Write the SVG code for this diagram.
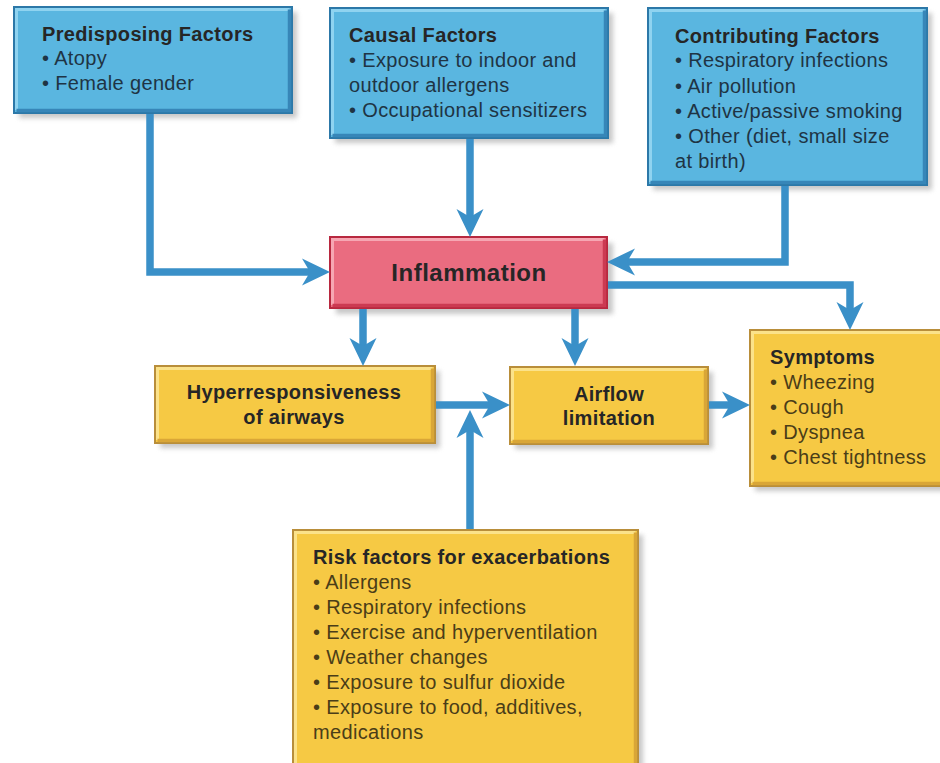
<svg xmlns="http://www.w3.org/2000/svg" width="940" height="763" viewBox="0 0 940 763">
<defs>
<filter id="sh" x="-10%" y="-10%" width="130%" height="130%"><feGaussianBlur stdDeviation="2.5"/></filter>
<marker id="ah" markerUnits="userSpaceOnUse" markerWidth="30" markerHeight="30" viewBox="0 -15 30 30" refX="14" refY="0" orient="auto" overflow="visible">
<path d="M0,-13.5 L28,0 L0,13.5 L8,0 Z" fill="#3a90c8"/>
</marker>
</defs>
<style>
text{font-family:"Liberation Sans",Arial,sans-serif;font-size:20px;letter-spacing:0.35px}
.t{font-weight:bold;fill:#262626}
.b{fill:#1f3444}
.y{fill:#4a3d18}
.shadow{fill:#9a9a9a;opacity:0.55;filter:url(#sh)}
.blue{fill:#5ab6e0;stroke:#2c78a8;stroke-width:2}
.blueHi{fill:none;stroke:#8fd3f0;stroke-width:3}
.blueLo{fill:none;stroke:#3786b8;stroke-width:3.5}
.pink{fill:#ea6c80;stroke:#b8283f;stroke-width:2}
.pinkHi{fill:none;stroke:#f6a7b3;stroke-width:3}
.pinkLo{fill:none;stroke:#cc3a52;stroke-width:3.5}
.yel{fill:#f6c944;stroke:#b98e3a;stroke-width:2}
.yelHi{fill:none;stroke:#fbe28a;stroke-width:3}
.yelLo{fill:none;stroke:#d9a637;stroke-width:3.5}
.c{fill:none;stroke:#3a90c8;stroke-width:7.5;stroke-linejoin:miter;marker-end:url(#ah)}
</style>

<g id="pred">
<rect class="shadow" x="19" y="12" width="278" height="106"/>
<rect class="blue" x="14" y="7" width="278" height="106"/>
<polyline class="blueHi" points="16.5,110 16.5,9.5 289.5,9.5"/>
<polyline class="blueLo" points="289.5,9.5 289.5,110.5 16.5,110.5"/>
<text class="t" x="42" y="41">Predisposing Factors</text>
<text class="b" x="42" y="65">• Atopy</text>
<text class="b" x="42" y="90">• Female gender</text>
</g>

<g id="causal">
<rect class="shadow" x="335" y="13" width="278" height="130"/>
<rect class="blue" x="330" y="8" width="278" height="130"/>
<polyline class="blueHi" points="332.5,135 332.5,10.5 605.5,10.5"/>
<polyline class="blueLo" points="605.5,10.5 605.5,135.5 332.5,135.5"/>
<text class="t" x="349" y="42">Causal Factors</text>
<text class="b" x="349" y="67">• Exposure to indoor and</text>
<text class="b" x="349" y="92">outdoor allergens</text>
<text class="b" x="349" y="117">• Occupational sensitizers</text>
</g>

<g id="contrib">
<rect class="shadow" x="653" y="13" width="279" height="177"/>
<rect class="blue" x="648" y="8" width="279" height="177"/>
<polyline class="blueHi" points="650.5,182 650.5,10.5 924.5,10.5"/>
<polyline class="blueLo" points="924.5,10.5 924.5,182.5 650.5,182.5"/>
<text class="t" x="675" y="43">Contributing Factors</text>
<text class="b" x="675" y="67">• Respiratory infections</text>
<text class="b" x="675" y="93">• Air pollution</text>
<text class="b" x="675" y="118">• Active/passive smoking</text>
<text class="b" x="675" y="143">• Other (diet, small size</text>
<text class="b" x="675" y="168">at birth)</text>
</g>

<g id="inflammation">
<rect class="shadow" x="336" y="243" width="277" height="71"/>
<rect class="pink" x="330" y="237" width="277" height="71"/>
<polyline class="pinkHi" points="332.5,305 332.5,239.5 604.5,239.5"/>
<polyline class="pinkLo" points="604.5,239.5 604.5,305.5 332.5,305.5"/>
<text class="t" x="469" y="281" text-anchor="middle" style="font-size:24px;letter-spacing:0.5px">Inflammation</text>
</g>

<g id="hyper">
<rect class="shadow" x="160" y="371" width="280" height="77"/>
<rect class="yel" x="155" y="366" width="280" height="77"/>
<polyline class="yelHi" points="157.5,440 157.5,368.5 432.5,368.5"/>
<polyline class="yelLo" points="432.5,368.5 432.5,440.5 157.5,440.5"/>
<text class="t" x="294" y="399" text-anchor="middle">Hyperresponsiveness</text>
<text class="t" x="294" y="424" text-anchor="middle">of airways</text>
</g>

<g id="airflow">
<rect class="shadow" x="515" y="372" width="198" height="77"/>
<rect class="yel" x="510" y="367" width="198" height="77"/>
<polyline class="yelHi" points="512.5,441 512.5,369.5 705.5,369.5"/>
<polyline class="yelLo" points="705.5,369.5 705.5,441.5 512.5,441.5"/>
<text class="t" x="609" y="401" text-anchor="middle">Airflow</text>
<text class="t" x="609" y="425" text-anchor="middle">limitation</text>
</g>

<g id="symptoms">
<rect class="shadow" x="755" y="335" width="200" height="156"/>
<rect class="yel" x="750" y="330" width="200" height="156"/>
<polyline class="yelHi" points="752.5,483 752.5,332.5 950,332.5"/>
<polyline class="yelLo" points="752.5,483.5 950,483.5"/>
<text class="t" x="770" y="364">Symptoms</text>
<text class="y" x="770" y="389">• Wheezing</text>
<text class="y" x="770" y="414">• Cough</text>
<text class="y" x="770" y="439">• Dyspnea</text>
<text class="y" x="770" y="464">• Chest tightness</text>
</g>

<g id="risk">
<rect class="shadow" x="298" y="535" width="345" height="240"/>
<rect class="yel" x="293" y="530" width="345" height="240"/>
<polyline class="yelHi" points="295.5,770 295.5,532.5 635.5,532.5"/>
<polyline class="yelLo" points="635.5,532.5 635.5,770"/>
<text class="t" x="313" y="564">Risk factors for exacerbations</text>
<text class="y" x="313" y="589">• Allergens</text>
<text class="y" x="313" y="614">• Respiratory infections</text>
<text class="y" x="313" y="639">• Exercise and hyperventilation</text>
<text class="y" x="313" y="664">• Weather changes</text>
<text class="y" x="313" y="689">• Exposure to sulfur dioxide</text>
<text class="y" x="313" y="714">• Exposure to food, additives,</text>
<text class="y" x="313" y="739">medications</text>
</g>

<g id="connectors">
<path class="c" d="M150,114 V272 H316"/>
<path class="c" d="M470,139 V223"/>
<path class="c" d="M785,186 V262 H621"/>
<path class="c" d="M608,285 H850 V316"/>
<path class="c" d="M363,309 V352"/>
<path class="c" d="M575,309 V352"/>
<path class="c" d="M436,405 H496"/>
<path class="c" d="M470,529 V424"/>
<path class="c" d="M709,405 H736"/>
</g>
</svg>
